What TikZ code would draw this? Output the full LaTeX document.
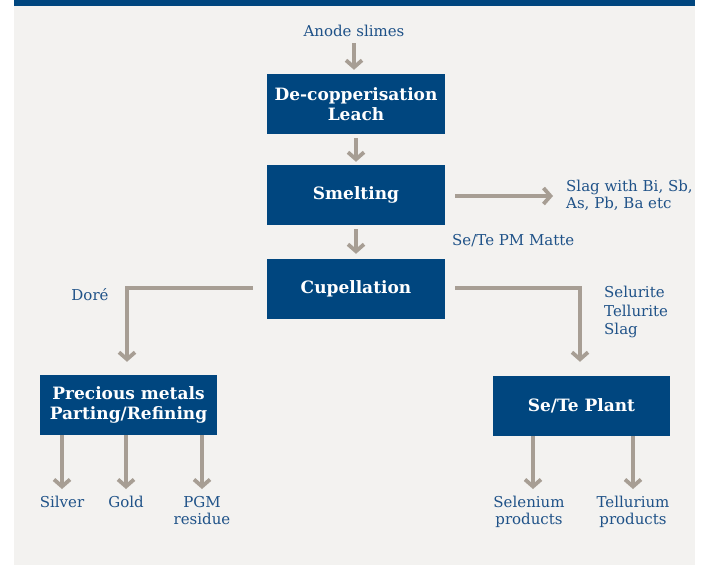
\documentclass[tikz,border=0pt]{standalone}
\usepackage{fontspec}
\setmainfont{DejaVu Serif}
\usetikzlibrary{positioning}
\usetikzlibrary{arrows.meta}
\definecolor{ink}{HTML}{00467F}
\definecolor{paper}{HTML}{F3F2F0}
\definecolor{pipe}{HTML}{A79E94}
\definecolor{txt}{HTML}{1F5288}

\begin{document}
\begin{tikzpicture}[x=1pt,y=-1pt,
	stage/.style={fill=ink,text=white,font=\bfseries\fontsize{17}{20.5}\selectfont,
		minimum width=178pt,minimum height=60pt,align=center,inner sep=0pt},
	lbl/.style={text=txt,font=\fontsize{15}{17}\selectfont,inner sep=0pt},
	flow/.style={draw=pipe,line width=3.8pt,-{Straight Barb[length=7pt,width=16pt]}}]
		\useasboundingbox (0,0) rectangle (702,565);
		\fill[paper] (14,0) rectangle (695,565);
		\fill[ink] (14,0) rectangle (695,6);
		% process stages
		\node[stage] (leach) at (356,104) {De-copperisation\\Leach};
		\node[stage] (smelt) at (356,195) {Smelting};
		\node[stage] (cupel) at (356,289) {Cupellation};
		\node[stage,minimum width=177pt] (refine) at (128.5,405) {Precious metals\\Parting/Refining};
		\node[stage,minimum width=177pt] (plant) at (581.5,406) {Se/Te Plant};
		% streams
		\node[lbl] (anode) at (354,31) {Anode slimes};
		\node[lbl,anchor=west,align=left] (slag) at (566,195) {Slag with Bi, Sb,\\As, Pb, Ba etc};
		\node[lbl,anchor=west] (matte) at (452,241) {Se/Te PM Matte};
		\node[lbl] (dore) at (90,295) {Doré};
		\node[lbl,anchor=north west,align=left,font=\fontsize{15}{18.5}\selectfont] (selurite) at (604,286) {Selurite\\Tellurite\\Slag};
		\node[lbl,anchor=north,align=center] (silver) at (62,496) {Silver};
		\node[lbl,anchor=north,align=center] (gold) at (126,496) {Gold};
		\node[lbl,anchor=north,align=center] (pgm) at (202,496) {PGM\\residue};
		\node[lbl,anchor=north,align=center] (selen) at (529,496) {Selenium\\products};
		\node[lbl,anchor=north,align=center] (tellur) at (633,496) {Tellurium\\products};
		\coordinate (slagend) at (553,196);
		\draw[flow,shorten <=6pt,shorten >=4pt] (anode.south) -- (anode.south |- leach.north);
		\draw[flow,shorten <=4pt,shorten >=3pt] (leach.south) -- (smelt.north);
		\draw[flow,shorten <=4pt,shorten >=5pt] (smelt.south) -- (cupel.north);
		\draw[flow,shorten <=10pt] (smelt.east |- slagend) -- (slagend);
		\draw[flow,shorten <=14pt,shorten >=13pt] ([yshift=1pt]cupel.west) -| ([xshift=-1.5pt]refine.north);
		\draw[flow,shorten <=10pt,shorten >=14pt] ([yshift=1pt]cupel.east) -| ([xshift=-1.5pt]plant.north);
		\foreach \X in {silver,gold,pgm}
		{\draw[flow,shorten >=7pt] (refine.south -| \X.north) -- (\X.north);}
		\draw[flow,shorten >=7pt] (plant.south -| selen.north) ++(4,0) -- ([xshift=4pt]selen.north);
		\draw[flow,shorten >=7pt] (plant.south -| tellur.north) -- (tellur.north);
	   \end{tikzpicture}
\end{document}
